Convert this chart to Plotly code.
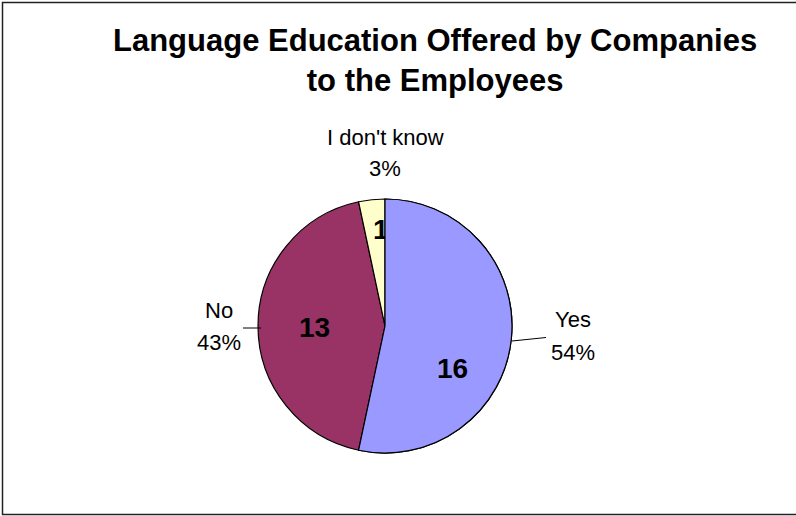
import plotly.graph_objects as go

# Survey answers
categories = ["Yes", "No", "I don't know"]
counts = [16, 13, 1]
pct_labels = ["54%", "43%", "3%"]

slice_colors = ["#9999FF", "#993366", "#FFFFCC"]
W, H = 796, 516
FONT = "Liberation Sans, Arial, sans-serif"

# Pie geometry in pixels (converted to paper fractions for the domain)
cx, cy, r = 385, 326, 127
dom_x = [(cx - r) / W, (cx + r) / W]
dom_y = [(H - cy - r) / H, (H - cy + r) / H]

fig = go.Figure()

# Full pie; only the thin slice carries its count here (it spills over the edge)
fig.add_trace(go.Pie(
    labels=categories, values=counts, sort=False, direction="clockwise", rotation=0,
    marker=dict(colors=slice_colors, line=dict(color="black", width=1.2)),
    text=["", "", "&nbsp;<br>&nbsp;&nbsp;" + str(counts[2])], textinfo="text",
    textposition="inside", insidetextorientation="horizontal",
    textfont=dict(family=FONT, size=28, color="black", weight="bold"),
    domain=dict(x=dom_x, y=dom_y), showlegend=False, hoverinfo="skip",
))

# The largest slice is redrawn on top so it covers the spill from its neighbour
fig.add_trace(go.Pie(
    labels=categories, values=counts, sort=False, direction="clockwise", rotation=0,
    marker=dict(colors=[slice_colors[0], "rgba(0,0,0,0)", "rgba(0,0,0,0)"],
                line=dict(color=["black", "rgba(0,0,0,0)", "rgba(0,0,0,0)"], width=1.2)),
    textinfo="none",
    domain=dict(x=dom_x, y=dom_y), showlegend=False, hoverinfo="skip",
))

annotations = []

# Counts inside the two large slices (pixel positions)
count_pos = {"Yes": (452, 368), "No": (314, 327)}
for cat, n in zip(categories, counts):
    if cat in count_pos:
        x, y = count_pos[cat]
        annotations.append(dict(
            x=x / W, y=1 - y / H, xref="paper", yref="paper",
            text=f"<b>{n}</b>", showarrow=False, xanchor="center", yanchor="middle",
            font=dict(family=FONT, size=28, color="black"),
        ))

# Outside category / percentage labels (pixel positions)
label_pos = {
    "Yes": (573, 319, 352),
    "No": (219, 310, 342),
    "I don't know": (385, 137, 168),
}
for cat, pct in zip(categories, pct_labels):
    x, y1, y2 = label_pos[cat]
    for txt, yy in ((cat, y1), (pct, y2)):
        annotations.append(dict(
            x=x / W, y=1 - yy / H, xref="paper", yref="paper",
            text=txt, showarrow=False, xanchor="center", yanchor="middle",
            font=dict(family=FONT, size=22, color="black"),
        ))

# Title
annotations.append(dict(
    x=435 / W, y=1 - 61 / H, xref="paper", yref="paper",
    text="<b>Language Education Offered by Companies<br>to the Employees</b>",
    showarrow=False, xanchor="center", yanchor="middle",
    font=dict(family=FONT, size=31, color="black"),
))

# Leader lines and chart border
def px_line(x0, y0, x1, y1):
    return dict(type="line", xref="paper", yref="paper",
                x0=x0 / W, y0=1 - y0 / H, x1=x1 / W, y1=1 - y1 / H,
                line=dict(color="black", width=1))

shapes = [
    px_line(512, 341, 546, 337.5),
    px_line(243, 328, 261, 328),
    dict(type="rect", xref="paper", yref="paper",
         x0=2.5 / W, y0=1 - 514.5 / H, x1=1.02, y1=1 - 2.5 / H,
         line=dict(color="#222222", width=1.5), fillcolor="rgba(0,0,0,0)"),
]

fig.update_layout(
    width=W, height=H, margin=dict(l=0, r=0, t=0, b=0),
    paper_bgcolor="white", plot_bgcolor="white",
    annotations=annotations, shapes=shapes,
    uniformtext=dict(minsize=28, mode="show"),
)

fig.write_html("out.html")
